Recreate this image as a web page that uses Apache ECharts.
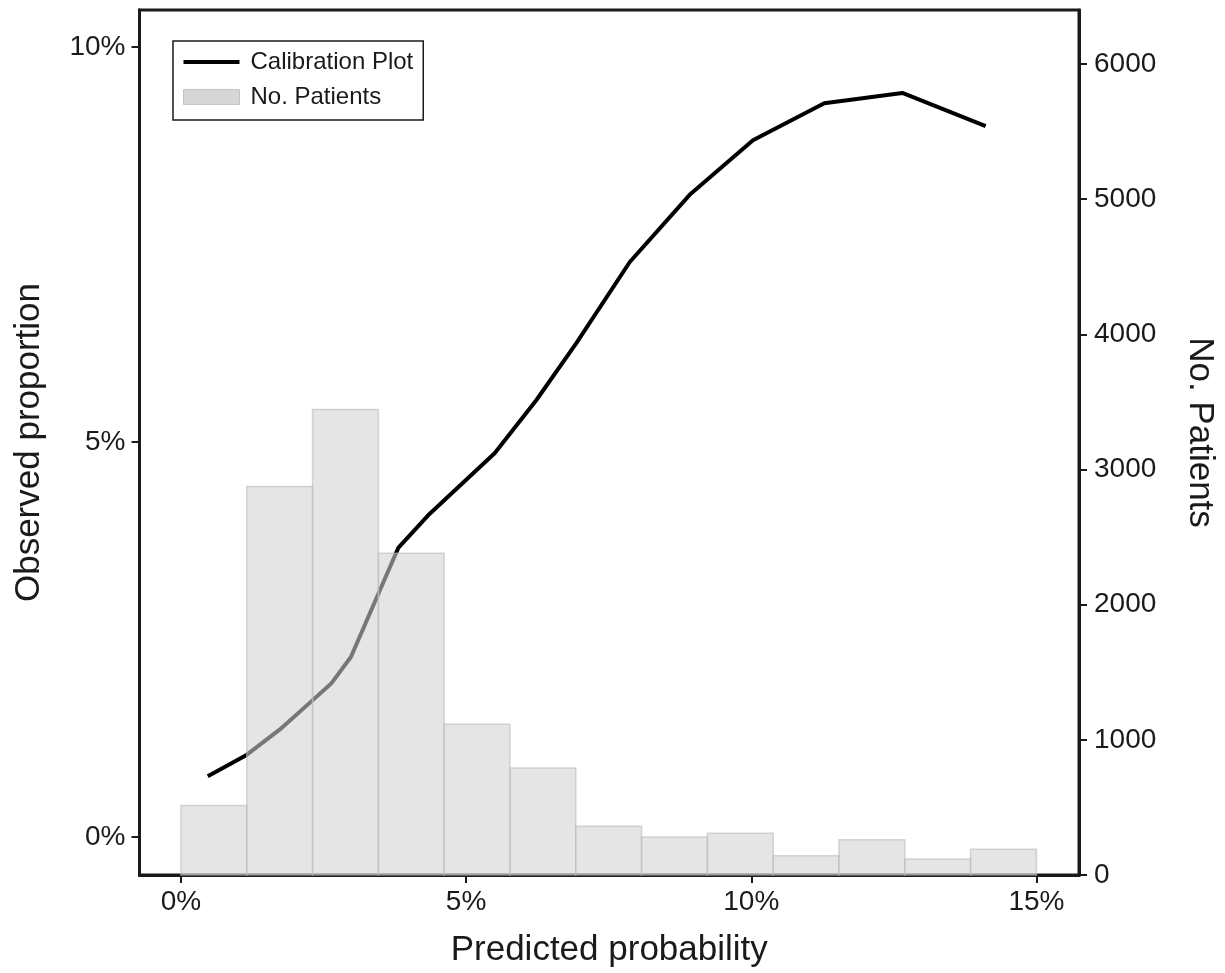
<!DOCTYPE html>
<html>
<head>
<meta charset="utf-8">
<script src="https://cdn.jsdelivr.net/npm/echarts@6/dist/echarts.min.js"></script>
<style>
  html, body { margin: 0; padding: 0; background: #fff; }
  #chart { width: 1225px; height: 973px; }
</style>
</head>
<body>
<div id="chart"></div>
<script>
// histogram bins (predicted probability, %)
var binEdges = [0, 1.154, 2.308, 3.462, 4.615, 5.769, 6.923, 8.077, 9.231, 10.385, 11.538, 12.692, 13.846, 15];
var patients = [515, 2875, 3445, 2380, 1115, 792, 360, 282, 309, 142, 260, 118, 191];

// calibration curve: predicted % vs observed %
var predicted = [0.47, 1.15, 1.73, 2.32, 2.63, 2.98, 3.81, 4.33, 5.50, 6.23, 6.93, 7.87, 8.92, 10.03, 11.28, 12.65, 14.11];
var observed  = [0.77, 1.04, 1.36, 1.74, 1.94, 2.28, 3.66, 4.07, 4.86, 5.53, 6.25, 7.28, 8.13, 8.82, 9.29, 9.42, 9.00];

var xTicks = [0, 5, 10, 15];
var leftTicks = [0, 5, 10];
var rightTicks = [0, 1000, 2000, 3000, 4000, 5000, 6000];

var font = 'Liberation Sans, Arial, sans-serif';
var ink = '#1a1a1a';

var lineData = predicted.map(function (p, i) { return [p, observed[i]]; });
var barData = patients.map(function (v, i) { return [binEdges[i], binEdges[i + 1], v]; });

var chart = echarts.init(document.getElementById('chart'));

function ticks(vals) {
    return { show: true, length: 8, customValues: vals, lineStyle: { color: ink, width: 2 } };
}

var axisCommon = {
    axisLine: { show: true, onZero: false, lineStyle: { color: ink, width: 3 } },
    splitLine: { show: false },
    nameLocation: 'middle',
    nameTextStyle: { fontSize: 35, color: ink, fontFamily: font }
};

var option = {
    animation: false,
    grid: {
        left: 139.5, right: 145, top: 10, bottom: 98,
        show: true, borderColor: ink, borderWidth: 3, backgroundColor: 'transparent'
    },
    legend: {
        left: 173, top: 41,
        orient: 'vertical',
        backgroundColor: '#fff',
        borderColor: ink, borderWidth: 1.5,
        padding: [9, 10, 11, 10],
        itemWidth: 56, itemHeight: 15, itemGap: 11,
        textStyle: { fontSize: 24, color: ink, fontFamily: font, padding: [0, 0, 0, 6] },
        data: [
            { name: 'Calibration Plot', icon: 'path://M0,0 L56,0 L56,4 L0,4 Z', itemStyle: { color: '#000' } },
            { name: 'No. Patients', icon: 'rect', itemStyle: { color: '#d6d6d6', borderColor: '#c4c4c4', borderWidth: 1, opacity: 1 } }
        ]
    },
    xAxis: Object.assign({}, axisCommon, {
        type: 'value',
        min: -0.727, max: 15.747,
        name: 'Predicted probability',
        nameGap: 58,
        axisTick: ticks(xTicks),
        axisLabel: {
            customValues: xTicks, formatter: '{value}%',
            fontSize: 28, color: ink, fontFamily: font, margin: 13
        }
    }),
    yAxis: [
        Object.assign({}, axisCommon, {
            type: 'value',
            position: 'left',
            min: -0.48, max: 10.47,
            name: 'Observed proportion',
            nameRotate: 90,
            nameGap: 93,
            axisTick: ticks(leftTicks),
            axisLabel: {
                customValues: leftTicks, formatter: '{value}%',
                fontSize: 28, color: ink, fontFamily: font, margin: 14
            }
        }),
        Object.assign({}, axisCommon, {
            type: 'value',
            position: 'right',
            min: 0, max: 6400,
            name: 'No. Patients',
            nameRotate: -90,
            nameGap: 103,
            nameTextStyle: { fontSize: 35, color: ink, fontFamily: font, padding: [0, 20, 0, 0] },
            axisTick: ticks(rightTicks),
            axisLabel: {
                customValues: rightTicks,
                formatter: function (v) { return String(v); },
                fontSize: 28, color: ink, fontFamily: font, margin: 15
            }
        })
    ],
    series: [
        {
            name: 'Calibration Plot',
            type: 'line',
            yAxisIndex: 0,
            data: lineData,
            symbol: 'none',
            lineStyle: { color: '#000', width: 4 },
            z: 2
        },
        {
            name: 'No. Patients',
            type: 'custom',
            yAxisIndex: 1,
            data: barData,
            z: 3,
            renderItem: function (params, api) {
                var p0 = api.coord([api.value(0), 0]);
                var p1 = api.coord([api.value(1), api.value(2)]);
                return {
                    type: 'rect',
                    shape: { x: p0[0], y: p1[1], width: p1[0] - p0[0], height: p0[1] - p1[1] },
                    style: {
                        fill: 'rgba(209,209,209,0.57)',
                        stroke: 'rgba(187,187,187,0.6)',
                        lineWidth: 1.5
                    }
                };
            }
        }
    ]
};

chart.setOption(option);
</script>
</body>
</html>
